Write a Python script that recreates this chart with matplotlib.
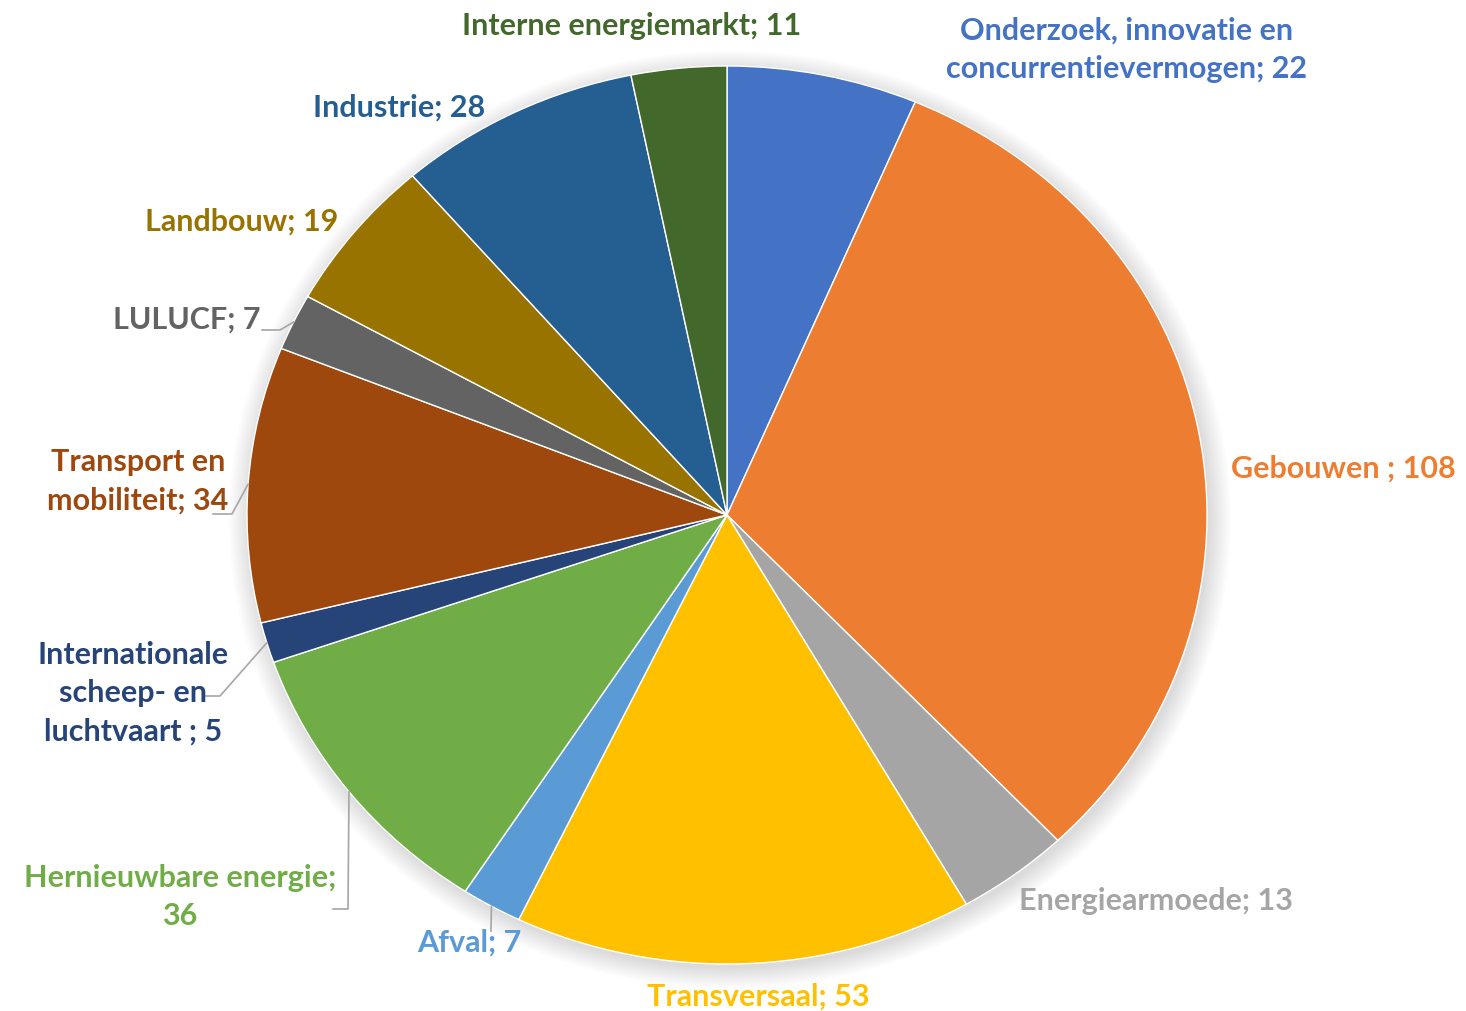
import matplotlib
matplotlib.use("Agg")
from matplotlib import pyplot as plt
import numpy as np

# data, clockwise from 12 o'clock
labels = ["Onderzoek, innovatie en\nconcurrentievermogen; 22", "Gebouwen ; 108",
          "Energiearmoede; 13", "Transversaal; 53", "Afval; 7",
          "Hernieuwbare energie;\n36", "Internationale\nscheep- en\nluchtvaart ; 5",
          "Transport en\nmobiliteit; 34", "LULUCF; 7", "Landbouw; 19",
          "Industrie; 28", "Interne energiemarkt; 11"]
values = [22, 108, 13, 53, 7, 36, 5, 34, 7, 19, 28, 11]
colors = ["#4472C4", "#ED7D31", "#A5A5A5", "#FFC000", "#5B9BD5", "#70AD47",
          "#264478", "#9E480E", "#636363", "#997300", "#255E91", "#43682B"]

W, H = 1466, 1012
CX, CY = 727, 516      # pie centre in pixels (from top)
RX, RY = 480, 449      # pie is drawn a bit wider than tall


def px(x, y):
    # pixel position (top-left origin) -> data coords
    return (x - CX) / RX, (CY - y) / RY


# label centres in pixels and alignment
label_pos = [(1127, 50, "center"), (1343, 469, "center"), (1156, 901, "center"),
             (758, 997, "center"), (469, 943, "center"), (180, 897, "center"),
             (133, 693, "center"), (138, 481, "center"), (260, 320, "right"),
             (242, 222, "center"), (399, 108, "center"), (632, 26, "center")]

# leader lines: label-side points (pixels), the slice end is computed
leaders = {4: [(491, 932)],
           5: [(333, 910), (348, 910)],
           6: [(205, 697), (220, 697)],
           7: [(213, 515), (232, 515)],
           8: [(262, 331), (280, 331)]}

plt.rcParams['font.family'] = ['Lato', 'DejaVu Sans']

fig = plt.figure(figsize=(W / 100, H / 100), dpi=100)
ax = fig.add_axes([0, 0, 1, 1])

# soft shadow
for k in range(12):
    sc = 1.0 + 0.004 * k
    e = matplotlib.patches.Ellipse((0.006, -0.01), 2 * sc, 2 * sc,
                                   color="black", alpha=0.012, lw=0)
    ax.add_patch(e)

wedges, _ = ax.pie(values, colors=colors, startangle=90, counterclock=False,
                   radius=1, wedgeprops=dict(edgecolor="white", linewidth=1))

ax.set_aspect("auto")
ax.set_xlim(-CX / RX, (W - CX) / RX)
ax.set_ylim(-(H - CY) / RY, CY / RY)
ax.axis("off")

total = sum(values)
cum = np.cumsum([0] + values)
for i, lab in enumerate(labels):
    x, y, ha = label_pos[i]
    ax.text(*px(x, y), lab, color=colors[i], fontsize=22, fontweight="bold",
            ha=ha, va="center", linespacing=1.45,
            multialignment="center" if ha == "center" else "right")
    if i in leaders:
        mid = (cum[i] + values[i] / 2) / total
        ang = np.deg2rad(90 - mid * 360)
        pts = [px(a, b) for a, b in leaders[i]] + [(np.cos(ang), np.sin(ang))]
        xs, ys = zip(*pts)
        ax.plot(xs, ys, color="#A6A6A6", lw=1.2)

plt.savefig("out.png", dpi=100, facecolor="white")
